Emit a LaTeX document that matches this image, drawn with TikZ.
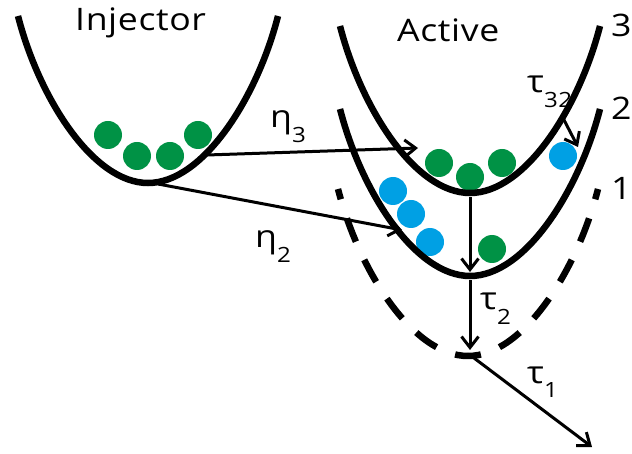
\documentclass[tikz,border=0pt]{standalone}
\usepackage{fontspec}
\setmainfont{Open Sans}[FakeStretch=1.15,LetterSpace=2]
\usetikzlibrary{arrows.meta}
\definecolor{dotgreen}{RGB}{0,146,69}
\definecolor{dotblue}{RGB}{0,160,228}
\newcommand\lsub[1]{\raisebox{-0.47em}{\fontsize{21}{21}\selectfont #1}}
\begin{document}
\begin{tikzpicture}[x=1pt,y=-1pt,
  well/.style={line width=6.5pt},
  dashwell/.style={line width=6.5pt,dash pattern=on 25pt off 20pt,dash phase=12pt},
  flow/.style={line width=3pt,-{Straight Barb[length=11pt,width=17pt]}},
  lbl/.style={anchor=base west,inner sep=0pt,font=\fontsize{31}{31}\selectfont},
  gdot/.style={fill=dotgreen},
  bdot/.style={fill=dotblue},
  wellpic/.pic={\draw[well] (-130,-167) .. controls (-109,-85) and (-55,0) .. (0,0) .. controls (55,0) and (109,-85) .. (130,-167);},
  dashpic/.pic={\draw[dashwell] (0,0) .. controls (-55,0) and (-109,-85) .. (-130,-167);
                \draw[dashwell] (0,0) .. controls (55,0) and (109,-85) .. (130,-167);}]
\useasboundingbox (0,0) rectangle (632,454);

% dots
\fill[gdot] (108,135) circle (14pt);
\fill[gdot] (137,156) circle (14pt);
\fill[gdot] (170,156) circle (14pt);
\fill[gdot] (198,135) circle (14pt);
\fill[gdot] (439,163) circle (14pt);
\fill[gdot] (470,177) circle (14pt);
\fill[gdot] (502,163) circle (14pt);
\fill[bdot] (563,156) circle (14pt);
\fill[bdot] (393,191) circle (14pt);
\fill[bdot] (411,214) circle (14pt);
\fill[bdot] (430,242) circle (14pt);
\fill[gdot] (492,249) circle (14pt);

% wells
\pic at (148,183) {wellpic};
\pic at (470,193) {wellpic};
\pic at (470,276) {wellpic};
\pic at (468,356) {dashpic};

% anchor points
\coordinate (i3) at (207,155);
\coordinate (a3) at (418,148);
\coordinate (i2) at (158,184);
\coordinate (a2) at (402,230);
\coordinate (v3) at (470,197);
\coordinate (v2t) at (470,272);
\coordinate (v2) at (470,280);
\coordinate (v1t) at (470,350);
\coordinate (v1) at (474,358);
\coordinate (out) at (592,447);
\coordinate (t32s) at (563,118);
\coordinate (t32e) at (578,147);

% arrows
\draw[flow] (i3) -- (a3);
\draw[flow] (i2) -- (a2);
\draw[flow] (v3) -- (v2t);
\draw[flow] (v2) -- (v1t);
\draw[flow] (v1) -- (out);
\draw[flow] (t32s) -- (t32e);

% labels
\node[lbl] (tinj) at (75,31) {Injector};
\node[lbl] (tact) at (397,42) {Active};
\node[lbl] (n3) at (611,37) {3};
\node[lbl] (n2) at (611,120) {2};
\node[lbl] (n1) at (611,200) {1};
\node[lbl] (eta3) at (270,128) {η\lsub{3}};
\node[lbl] (eta2) at (255,248) {η\lsub{2}};
\node[lbl] (tau32) at (527,93) {τ\lsub{32}};
\node[lbl] (tau2) at (480,310) {τ\lsub{2}};
\node[lbl] (tau1) at (527,383) {τ\lsub{1}};
\end{tikzpicture}
\end{document}
